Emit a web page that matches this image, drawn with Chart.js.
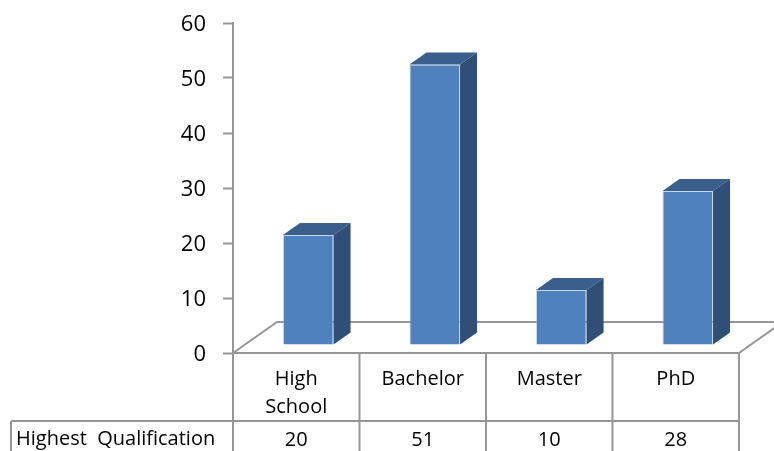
<!DOCTYPE html>
<html>
<head>
<meta charset="utf-8">
<script src="https://cdn.jsdelivr.net/npm/chart.js@4/dist/chart.umd.min.js"></script>
<style>
  html, body { margin: 0; padding: 0; background: #ffffff; }
  #wrap { width: 774px; height: 451px; }
</style>
</head>
<body>
<div id="wrap"><canvas id="chart" width="774" height="451"></canvas></div>
<script>
// Highest qualification counts, shown as 3D columns with a data table below
const categories = ['High School', 'Bachelor', 'Master', 'PhD'];
const categoryLines = [['High', 'School'], ['Bachelor'], ['Master'], ['PhD']];
const seriesName = 'Highest  Qualification';
const values = [20, 51, 10, 28];
const yMin = 0;
const yMax = 60;
const yStep = 10;

const FONT = '"Open Sans", sans-serif';
const LINE = '#969696';
const FRONT = '#4F81BD';
const TOP = '#3A5F8C';
const SIDE = '#2F4F76';
const DEPTH_X = 17, DEPTH_Y = -12;     // bar depth projection
const SHIFT_X = 12, SHIFT_Y = -8;      // bars sit a little back on the floor
const FLOOR_DX = 44, FLOOR_DY = -31;   // floor depth projection

const threeD = {
  id: 'threeD',
  beforeDatasetsDraw(chart) {
    const ctx = chart.ctx;
    const a = chart.chartArea;
    // floor outline
    ctx.save();
    ctx.strokeStyle = LINE;
    ctx.lineWidth = 2;
    ctx.beginPath();
    ctx.moveTo(a.left, a.bottom);
    ctx.lineTo(a.left + FLOOR_DX, a.bottom + FLOOR_DY);
    ctx.lineTo(a.right + FLOOR_DX, a.bottom + FLOOR_DY);
    ctx.moveTo(a.right, a.bottom);
    ctx.lineTo(a.right + FLOOR_DX, a.bottom + FLOOR_DY);
    ctx.stroke();
    ctx.restore();
    ctx.save();
    ctx.translate(SHIFT_X, SHIFT_Y);
  },
  afterDatasetsDraw(chart) {
    const ctx = chart.ctx;
    const meta = chart.getDatasetMeta(0);
    meta.data.forEach((bar) => {
      const p = bar.getProps(['x', 'y', 'base', 'width'], true);
      const l = p.x - p.width / 2, r = p.x + p.width / 2;
      ctx.fillStyle = TOP;
      ctx.beginPath();
      ctx.moveTo(l, p.y);
      ctx.lineTo(l + DEPTH_X, p.y + DEPTH_Y);
      ctx.lineTo(r + DEPTH_X, p.y + DEPTH_Y);
      ctx.lineTo(r, p.y);
      ctx.closePath();
      ctx.fill();
      ctx.fillStyle = SIDE;
      ctx.beginPath();
      ctx.moveTo(r, p.y);
      ctx.lineTo(r + DEPTH_X, p.y + DEPTH_Y);
      ctx.lineTo(r + DEPTH_X, p.base + DEPTH_Y);
      ctx.lineTo(r, p.base);
      ctx.closePath();
      ctx.fill();
    });
    ctx.restore();
  }
};

const dataTable = {
  id: 'dataTable',
  afterDraw(chart) {
    const ctx = chart.ctx;
    const a = chart.chartArea;
    const n = categories.length;
    const cw = (a.right - a.left) / n;
    const top = a.bottom;
    const mid = 421;
    const bottom = chart.height + 2;
    const headerLeft = 11;
    ctx.save();
    ctx.strokeStyle = LINE;
    ctx.lineWidth = 2;
    ctx.beginPath();
    for (let i = 0; i <= n; i++) {
      const x = a.left + i * cw;
      ctx.moveTo(x, top);
      ctx.lineTo(x, bottom);
    }
    ctx.moveTo(a.left, top);
    ctx.lineTo(a.right, top);
    ctx.moveTo(headerLeft, mid);
    ctx.lineTo(a.right, mid);
    ctx.moveTo(headerLeft, mid);
    ctx.lineTo(headerLeft, bottom);
    ctx.stroke();

    ctx.fillStyle = '#000000';
    ctx.font = '20px ' + FONT;
    ctx.textBaseline = 'middle';
    ctx.textAlign = 'center';
    categoryLines.forEach((lines, i) => {
      const cx = a.left + (i + 0.5) * cw;
      lines.forEach((t, j) => ctx.fillText(t, cx, 379 + j * 28));
      ctx.fillText(String(values[i]), cx, 440);
    });
    ctx.textAlign = 'left';
    ctx.fillText(seriesName, 16, 439);
    ctx.restore();
  }
};

new Chart(document.getElementById('chart'), {
  type: 'bar',
  data: {
    labels: categories,
    datasets: [{
      label: seriesName,
      data: values,
      backgroundColor: FRONT,
      borderColor: 'rgba(160,190,225,0.6)',
      borderWidth: 1,
      barPercentage: 0.4,
      categoryPercentage: 1.0,
      clip: false
    }]
  },
  options: {
    responsive: false,
    animation: false,
    events: [],
    layout: { padding: { top: 23, right: 35, bottom: 98, left: 0 } },
    plugins: { legend: { display: false }, tooltip: { enabled: false } },
    scales: {
      x: { display: false, offset: true },
      y: {
        min: yMin,
        max: yMax,
        afterFit(scale) {
          scale.width = 233;
          scale.paddingTop = 14;
          scale.paddingBottom = 14;
        },
        ticks: {
          stepSize: yStep,
          padding: 17,
          labelOffset: 2,
          color: '#000000',
          font: { family: FONT, size: 22 }
        },
        grid: {
          drawOnChartArea: false,
          drawTicks: true,
          tickLength: 10,
          tickWidth: 2,
          tickColor: LINE
        },
        border: { display: true, color: LINE, width: 2 }
      }
    }
  },
  plugins: [threeD, dataTable]
});
</script>
</body>
</html>
